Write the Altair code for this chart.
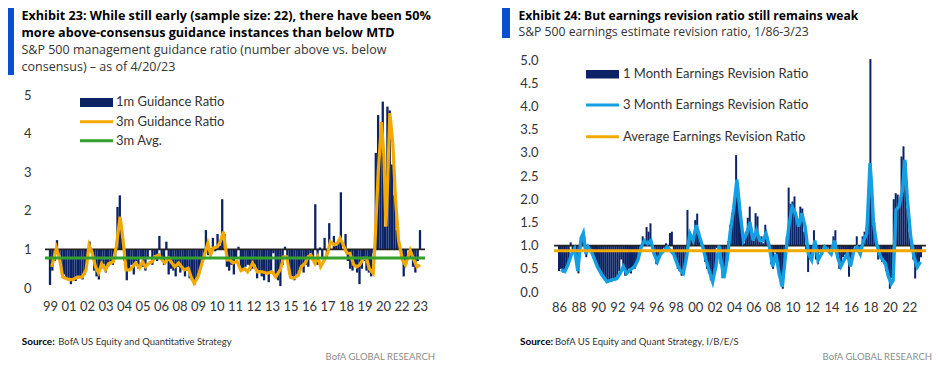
import altair as alt
import pandas as pd

FONT = "Lato"
HEAD_FONT = "Open Sans"
NAVY = "#0b2265"
ORANGE = "#f4a900"
GREEN = "#33a02c"
SKY = "#139fe2"
ACCENT = "#0a4fd1"
TXT = "#333333"

# ---------------- Exhibit 23 (left) ----------------
L_TITLE = ["Exhibit 23: While still early (sample size: 22), there have been 50%",
           "more above-consensus guidance instances than below MTD"]
L_SUB = ["S&P 500 management guidance ratio (number above vs. below",
         "consensus) \u2013 as of 4/20/23"]
L_XLABELS = ["99", "01", "02", "03", "04", "05", "06", "08", "09", "10", "11",
             "12", "13", "15", "16", "17", "18", "19", "20", "22", "23"]
L_YTICKS = [0, 1, 2, 3, 4, 5]
L_LEGEND = ["1m Guidance Ratio", "3m Guidance Ratio", "3m Avg."]
L_SOURCE = "BofA US Equity and Quantitative Strategy"
L_BASE = 1.0

# 1m guidance ratio (bars hang from 1.0), evenly spaced along the axis
L_BAR_1M = [
    0.08, 0.45, 0.7, 1.24, 0.85, 0.5, 0.35, 0.25, 0.22, 0.1,
    0.2, 0.18, 0.25, 0.3, 0.22, 0.35, 0.75, 1.2, 0.9, 0.45,
    0.3, 0.22, 0.5, 0.62, 0.4, 0.55, 0.65, 0.6, 0.75, 2.1,
    2.4, 1.3, 0.7, 0.2, 0.45, 0.6, 0.35, 0.7, 0.5, 0.8,
    0.55, 0.45, 0.75, 1.0, 0.6, 0.85, 0.7, 1.35, 0.8, 0.6,
    1.2, 0.35, 0.5, 0.45, 0.3, 0.55, 0.4, 0.5, 0.3, 0.45,
    0.25, 0.2, 0.08, 0.25, 0.35, 0.6, 0.8, 1.5, 0.85, 1.0,
    1.3, 0.95, 1.4, 1.1, 2.3, 1.4, 0.55, 0.45, 0.6, 0.35,
    0.8, 1.07, 0.5, 0.45, 0.55, 0.6, 0.45, 0.5, 0.6, 0.25,
    0.45, 0.3, 0.2, 0.4, 0.15, 0.45, 0.9, 0.3, 0.2, 0.05,
    0.6, 1.07, 0.7, 0.35, 0.3, 0.2, 0.35, 0.45, 0.5, 0.4,
    0.6, 0.55, 0.9, 0.7, 2.17, 0.6, 1.05, 0.75, 1.3, 0.8,
    1.68, 1.0, 1.35, 1.1, 1.2, 2.48, 1.0, 1.4, 0.7, 0.5,
    0.45, 0.55, 0.4, 0.1, 0.5, 0.7, 0.45, 0.4, 0.3, 0.9,
    3.5, 4.48, 3.8, 4.83, 1.6, 4.7, 4.6, 3.2, 2.4, 1.5,
    1.1, 0.8, 0.3, 0.6, 1.0, 0.8, 0.55, 0.4, 0.7, 1.5,
]
# 3m guidance ratio: position on the label axis (0 = "99" ... 20 = "23") and value
L_LINE_POS = [
    0.09, 0.35, 0.53, 0.68, 0.95, 1.21, 1.47, 1.74, 1.95, 2.11, 2.26, 2.47, 2.63, 2.79,
    3.00, 3.16, 3.42, 3.58, 3.79, 3.95, 4.11, 4.32, 4.47, 4.63, 4.84, 5.00, 5.16, 5.37,
    5.53, 5.68, 5.89, 6.05, 6.21, 6.42, 6.58, 6.74, 6.95, 7.11, 7.26, 7.47, 7.63, 7.79,
    8.00, 8.16, 8.32, 8.53, 8.68, 8.84, 9.05, 9.21, 9.37, 9.58, 9.74, 9.89, 10.11, 10.32,
    10.53, 10.68, 10.95, 11.21, 11.47, 11.74, 12.00, 12.21, 12.47, 12.63, 12.79, 13.00,
    13.16, 13.42, 13.58, 13.79, 13.95, 14.11, 14.32, 14.47, 14.63, 14.84, 15.00, 15.16,
    15.37, 15.53, 15.68, 15.89, 16.05, 16.21, 16.42, 16.58, 16.74, 16.95, 17.11, 17.26,
    17.47, 17.55, 17.74, 17.92, 18.05, 18.16, 18.26, 18.37, 18.53, 18.68, 18.84, 19.05,
    19.21, 19.47, 19.63, 19.84, 20.0,
]
L_LINE_3M = [
    0.55, 1.04, 0.73, 0.29, 0.23, 0.21, 0.28, 0.28, 0.47, 1.11, 0.94, 0.53, 0.39, 0.63,
    0.47, 0.63, 0.68, 1.07, 1.85, 1.24, 0.47, 0.47, 0.55, 0.65, 0.52, 0.68, 0.55, 0.65,
    0.68, 0.81, 0.86, 0.73, 0.65, 0.77, 0.65, 0.55, 0.65, 0.55, 0.47, 0.51, 0.29, 0.12,
    0.29, 0.55, 0.81, 1.16, 0.86, 1.04, 1.07, 1.2, 1.46, 0.73, 0.73, 0.65, 0.69, 0.45,
    0.5, 0.42, 0.64, 0.42, 0.42, 0.38, 0.42, 0.29, 0.5, 0.81, 0.81, 0.27,
    0.25, 0.33, 0.55, 0.64, 0.81, 0.85, 0.64, 0.81, 0.55, 0.73, 0.9, 1.2,
    1.12, 1.16, 1.29, 1.07, 0.9, 0.9, 0.6, 0.55, 0.6, 0.77, 0.77, 0.5,
    0.38, 1.0, 2.98, 4.3, 3.4, 1.59, 2.88, 4.53, 3.75, 2.28, 1.24, 0.73,
    0.6, 0.98, 0.77, 0.55, 0.6,
]
L_AVG_3M = 0.78

# ---------------- Exhibit 24 (right) ----------------
R_TITLE = "Exhibit 24: But earnings revision ratio still remains weak"
R_SUB = "S&P 500 earnings estimate revision ratio, 1/86-3/23"
R_LEGEND = ["1 Month Earnings Revision Ratio", "3 Month Earnings Revision Ratio",
            "Average Earnings Revision Ratio"]
R_SOURCE = "BofA US Equity and Quant Strategy, I/B/E/S"
R_YTICKS = [0.0, 0.5, 1.0, 1.5, 2.0, 2.5, 3.0, 3.5, 4.0, 4.5, 5.0]
R_XTICKS = list(range(1986, 2023, 2))
R_BASE = 1.0
R_BAR_START = 1986.0
R_BAR_STEP = 0.2
R_BAR_1M = [
    0.45, 0.5, 0.42, 0.48, 0.55, 0.65, 1.07, 0.9, 1.0, 0.6,
    0.4, 1.1, 1.25, 1.2, 0.75, 1.0, 0.9, 0.8, 0.7, 0.6,
    0.5, 0.45, 0.35, 0.3, 0.25, 0.2, 0.25, 0.22, 0.3, 0.25,
    0.3, 0.45, 0.7, 0.5, 0.35, 0.45, 0.5, 0.4, 0.55, 0.5,
    0.65, 0.8, 1.0, 1.2, 1.1, 1.4, 1.3, 1.48, 1.0, 0.8,
    0.6, 0.7, 0.85, 0.9, 0.95, 1.05, 0.9, 1.27, 1.3, 0.85,
    0.7, 0.5, 0.45, 0.35, 0.4, 0.6, 1.77, 1.3, 1.2, 1.1,
    1.55, 1.69, 1.3, 1.0, 0.9, 0.65, 0.5, 0.4, 0.25, 0.2,
    0.45, 0.95, 1.0, 0.6, 0.3, 0.35, 0.65, 1.1, 1.45, 1.7,
    1.9, 2.95, 2.3, 1.8, 1.3, 1.05, 1.3, 1.6, 1.84, 1.2,
    1.1, 1.7, 1.63, 1.1, 1.2, 1.05, 1.45, 1.2, 0.9, 0.6,
    0.5, 0.85, 0.6, 0.35, 0.15, 0.07, 0.6, 1.2, 2.25, 1.9,
    1.95, 2.06, 1.6, 1.5, 1.84, 1.8, 1.3, 0.9, 0.43, 0.7,
    0.8, 1.33, 0.7, 0.6, 0.85, 0.8, 1.0, 0.9, 0.95, 0.85,
    0.8, 1.2, 1.33, 0.75, 0.5, 0.6, 0.75, 0.8, 0.85, 0.33,
    0.6, 0.9, 1.0, 1.2, 0.85, 1.0, 1.2, 1.3, 1.4, 1.9,
    5.02, 2.0, 1.5, 1.1, 0.7, 0.8, 0.65, 0.6, 0.45, 0.3,
    0.07, 0.3, 2.0, 2.13, 2.1, 2.0, 2.92, 3.14, 2.8, 1.8,
    1.3, 0.9, 0.7, 0.29, 0.5, 0.6, 0.75,
]
R_LINE_YEAR = [
    1986.2, 1986.6, 1986.9, 1987.3, 1987.6, 1987.93, 1988.27, 1988.5, 1988.77, 1989.0,
    1989.43, 1989.93, 1990.43, 1990.93, 1991.43, 1991.94, 1992.28, 1992.61, 1992.94,
    1993.28, 1993.78, 1994.11, 1994.44, 1994.78, 1995.11, 1995.44, 1995.78, 1996.11,
    1996.44, 1996.78, 1997.11, 1997.44, 1997.78, 1998.11, 1998.44, 1998.78, 1999.11,
    1999.44, 1999.78, 2000.11, 2000.44, 2000.78, 2001.11, 2001.45, 2001.79, 2002.12,
    2002.45, 2002.6, 2002.94, 2003.28, 2003.6, 2003.95, 2004.28, 2004.62, 2004.95,
    2005.29, 2005.62, 2005.95, 2006.29, 2006.62, 2006.95, 2007.28, 2007.62, 2007.95,
    2008.29, 2008.62, 2008.95, 2009.29, 2009.62, 2009.95, 2010.29, 2010.62, 2010.95,
    2011.29, 2011.63, 2011.96, 2012.29, 2012.63, 2012.96, 2013.3, 2013.63, 2013.96,
    2014.3, 2014.63, 2014.96, 2015.3, 2015.63, 2015.96, 2016.3, 2016.63, 2016.96,
    2017.3, 2017.63, 2017.96, 2018.12, 2018.32, 2018.62, 2019.03, 2019.53, 2019.83,
    2020.13, 2020.33, 2020.63, 2020.93, 2021.3, 2021.54, 2021.8, 2022.14, 2022.47,
    2022.81, 2023.14,
]
R_LINE_3M = [
    0.48, 0.44, 0.58, 0.82, 0.93, 0.45, 1.16, 1.27, 0.82, 0.97,
    0.82, 0.55, 0.36, 0.22, 0.26, 0.29, 0.4, 0.55, 0.4,
    0.47, 0.55, 0.69, 0.97, 1.11, 1.04, 1.11, 0.82, 0.65,
    0.82, 0.89, 0.97, 0.89, 0.82, 0.62, 0.47, 0.4, 0.75,
    1.26, 1.11, 1.44, 1.19, 0.97, 0.69, 0.45, 0.22, 0.55,
    1.0, 0.75, 0.3, 0.7, 1.3, 1.8, 2.42, 1.7, 1.11,
    1.26, 1.51, 1.11, 1.33, 1.11, 1.11, 1.26, 0.97, 0.55,
    0.82, 0.4, 0.11, 0.82, 1.41, 1.84, 1.7, 1.41, 1.7,
    1.41, 0.82, 0.69, 1.11, 0.69, 0.82, 0.97, 0.9, 0.82,
    1.11, 0.75, 0.55, 0.69, 0.82, 0.55, 0.9, 0.97, 0.82,
    1.11, 1.26, 2.78, 2.3, 1.48, 1.05, 0.76, 0.62, 0.35,
    0.18, 0.25, 1.77, 1.84, 2.2, 2.85, 1.99, 1.19, 0.76,
    0.54, 0.65,
]
R_AVG = 0.89

# ---------------- layout constants (pixels) ----------------
L_W, L_H, L_YMAX = 380, 228, 5.907
R_W, R_H = 372, 232


def one():
    return alt.Chart(alt.Data(values=[{"k": 0}]))


def text(x, y, s, size, color=TXT, weight="normal", align="left", font=FONT):
    return one().mark_text(align=align, baseline="middle", font=font, fontSize=size,
                           fontWeight=weight, color=color).encode(
        x=alt.value(x), y=alt.value(y), text=alt.value(s))


def rect(x1, x2, y1, y2, color):
    return one().mark_rect(color=color).encode(
        x=alt.value(x1), x2=alt.value(x2), y=alt.value(y1), y2=alt.value(y2))


def hline(x1, x2, y, color, w):
    return one().mark_rule(color=color, strokeWidth=w).encode(
        x=alt.value(x1), x2=alt.value(x2), y=alt.value(y))


# ---------------- left panel ----------------
lab_expr = "[" + ",".join("'%s'" % s for s in L_XLABELS) + "][datum.value]"
n = len(L_BAR_1M)
left_bars = pd.DataFrame({"pos": [i * (len(L_XLABELS) - 1) / (n - 1) for i in range(n)],
                          "v": L_BAR_1M, "base": [L_BASE] * n})
left_line = pd.DataFrame({"pos": L_LINE_POS, "v": L_LINE_3M})

L_XAXIS = alt.Axis(values=list(range(len(L_XLABELS))), labelExpr=lab_expr,
                   labelPadding=12, labelFlush=False, labelOverlap=False)
L_YAXIS = alt.Axis(values=L_YTICKS, labelPadding=14, labelOverlap=False)
L_XSCALE = alt.Scale(domain=[0, len(L_XLABELS) - 1], nice=False, zero=False)
L_YSCALE = alt.Scale(domain=[0, L_YMAX], nice=False)
xL = alt.X("pos:Q", title=None, scale=L_XSCALE, axis=L_XAXIS)
yL = alt.Y("v:Q", title=None, scale=L_YSCALE, axis=L_YAXIS)

left = alt.layer(
    rect(0, 425, -52, -51, "white"),
    alt.Chart(left_bars).mark_bar(width=2.3, color=NAVY).encode(
        x=xL, y=yL, y2=alt.Y2("base:Q")),
    alt.Chart(pd.DataFrame({"v": [L_BASE]})).mark_rule(
        color="#222222", strokeWidth=1.6).encode(y=yL),
    alt.Chart(left_line).mark_line(color=ORANGE, strokeWidth=3.2).encode(x=xL, y=yL),
    alt.Chart(pd.DataFrame({"v": [L_AVG_3M]})).mark_rule(
        color=GREEN, strokeWidth=3).encode(y=yL),
    # accent bar, titles
    rect(-37, -31, -52, 15, ACCENT),
    text(-23.5, -44, L_TITLE[0], 12.6, "#000000", "bold", font=HEAD_FONT),
    text(-23.5, -27, L_TITLE[1], 12.6, "#000000", "bold", font=HEAD_FONT),
    text(-23.5, -10.5, L_SUB[0], 12.5, font=HEAD_FONT),
    text(-23.5, 7, L_SUB[1], 12.5, font=HEAD_FONT),
    # legend
    rect(35, 68, 38, 47, NAVY),
    hline(35, 68, 61.7, ORANGE, 3),
    hline(35, 68, 80.7, GREEN, 3),
    text(71, 42, L_LEGEND[0], 13),
    text(71, 61.5, L_LEGEND[1], 13),
    text(71, 81, L_LEGEND[2], 13),
    # source / footer
    text(-23.3, 281.5, "Source:", 10, "#000000", "bold"),
    text(13.3, 281.5, L_SOURCE, 9.5),
    text(390, 296.7, "BofA GLOBAL RESEARCH", 9.5, "#8c8c8c", align="right"),
).properties(width=L_W, height=L_H)

# ---------------- right panel ----------------
m = len(R_BAR_1M)
right_bars = pd.DataFrame({"yr": [round(R_BAR_START + R_BAR_STEP * i, 2) for i in range(m)],
                           "v": R_BAR_1M, "base": [R_BASE] * m})
right_line = pd.DataFrame({"yr": R_LINE_YEAR, "v": R_LINE_3M})

R_XAXIS = alt.Axis(values=R_XTICKS, labelExpr="slice(toString(datum.value), 2)",
                   labelPadding=9, labelFlush=False, labelOverlap=False)
R_YAXIS = alt.Axis(values=R_YTICKS, format=".1f", labelPadding=16,
                   labelOverlap=False, labelFlush=False, labelSeparation=0)
R_XSCALE = alt.Scale(domain=[R_BAR_START, R_BAR_START + R_BAR_STEP * (m - 1)],
                     nice=False, zero=False)
R_YSCALE = alt.Scale(domain=[0, 5], nice=False)
xR = alt.X("yr:Q", title=None, scale=R_XSCALE, axis=R_XAXIS)
yR = alt.Y("v:Q", title=None, scale=R_YSCALE, axis=R_YAXIS)

right = alt.layer(
    alt.Chart(right_bars).mark_bar(width=2, color=NAVY).encode(
        x=xR, y=yR, y2=alt.Y2("base:Q")),
    alt.Chart(pd.DataFrame({"v": [R_BASE]})).mark_rule(
        color="#222222", strokeWidth=1.6).encode(y=yR),
    alt.Chart(right_line).mark_line(color=SKY, strokeWidth=3.4).encode(x=xR, y=yR),
    alt.Chart(pd.DataFrame({"v": [R_AVG]})).mark_rule(
        color=ORANGE, strokeWidth=3).encode(y=yR),
    rect(-52, -44, -52, -22, ACCENT),
    text(-35.5, -44, R_TITLE, 12.1, "#000000", "bold", font=HEAD_FONT),
    text(-35.5, -28, R_SUB, 12.2, font=HEAD_FONT),
    rect(32, 65, 10, 18.5, NAVY),
    hline(32, 65, 45, SKY, 3),
    hline(32, 65, 76.7, ORANGE, 3),
    text(69, 13.5, R_LEGEND[0], 13),
    text(69, 45, R_LEGEND[1], 13),
    text(69, 76.7, R_LEGEND[2], 13),
    text(-34, 281.5, "Source:", 10, "#000000", "bold"),
    text(1, 281.5, R_SOURCE, 9.5),
    text(378, 296.7, "BofA GLOBAL RESEARCH", 9.5, "#8c8c8c", align="right"),
).properties(width=R_W, height=R_H)

chart = alt.hconcat(left, right, spacing=32).properties(
    padding=0, background="white"
).configure_view(stroke=None).configure_axis(
    domain=False, ticks=False, grid=False, labelFont=FONT, labelFontSize=13,
    labelColor=TXT, labelOverlap=False
)

chart.save("out.html", embed_options={"renderer": "svg", "actions": False})
